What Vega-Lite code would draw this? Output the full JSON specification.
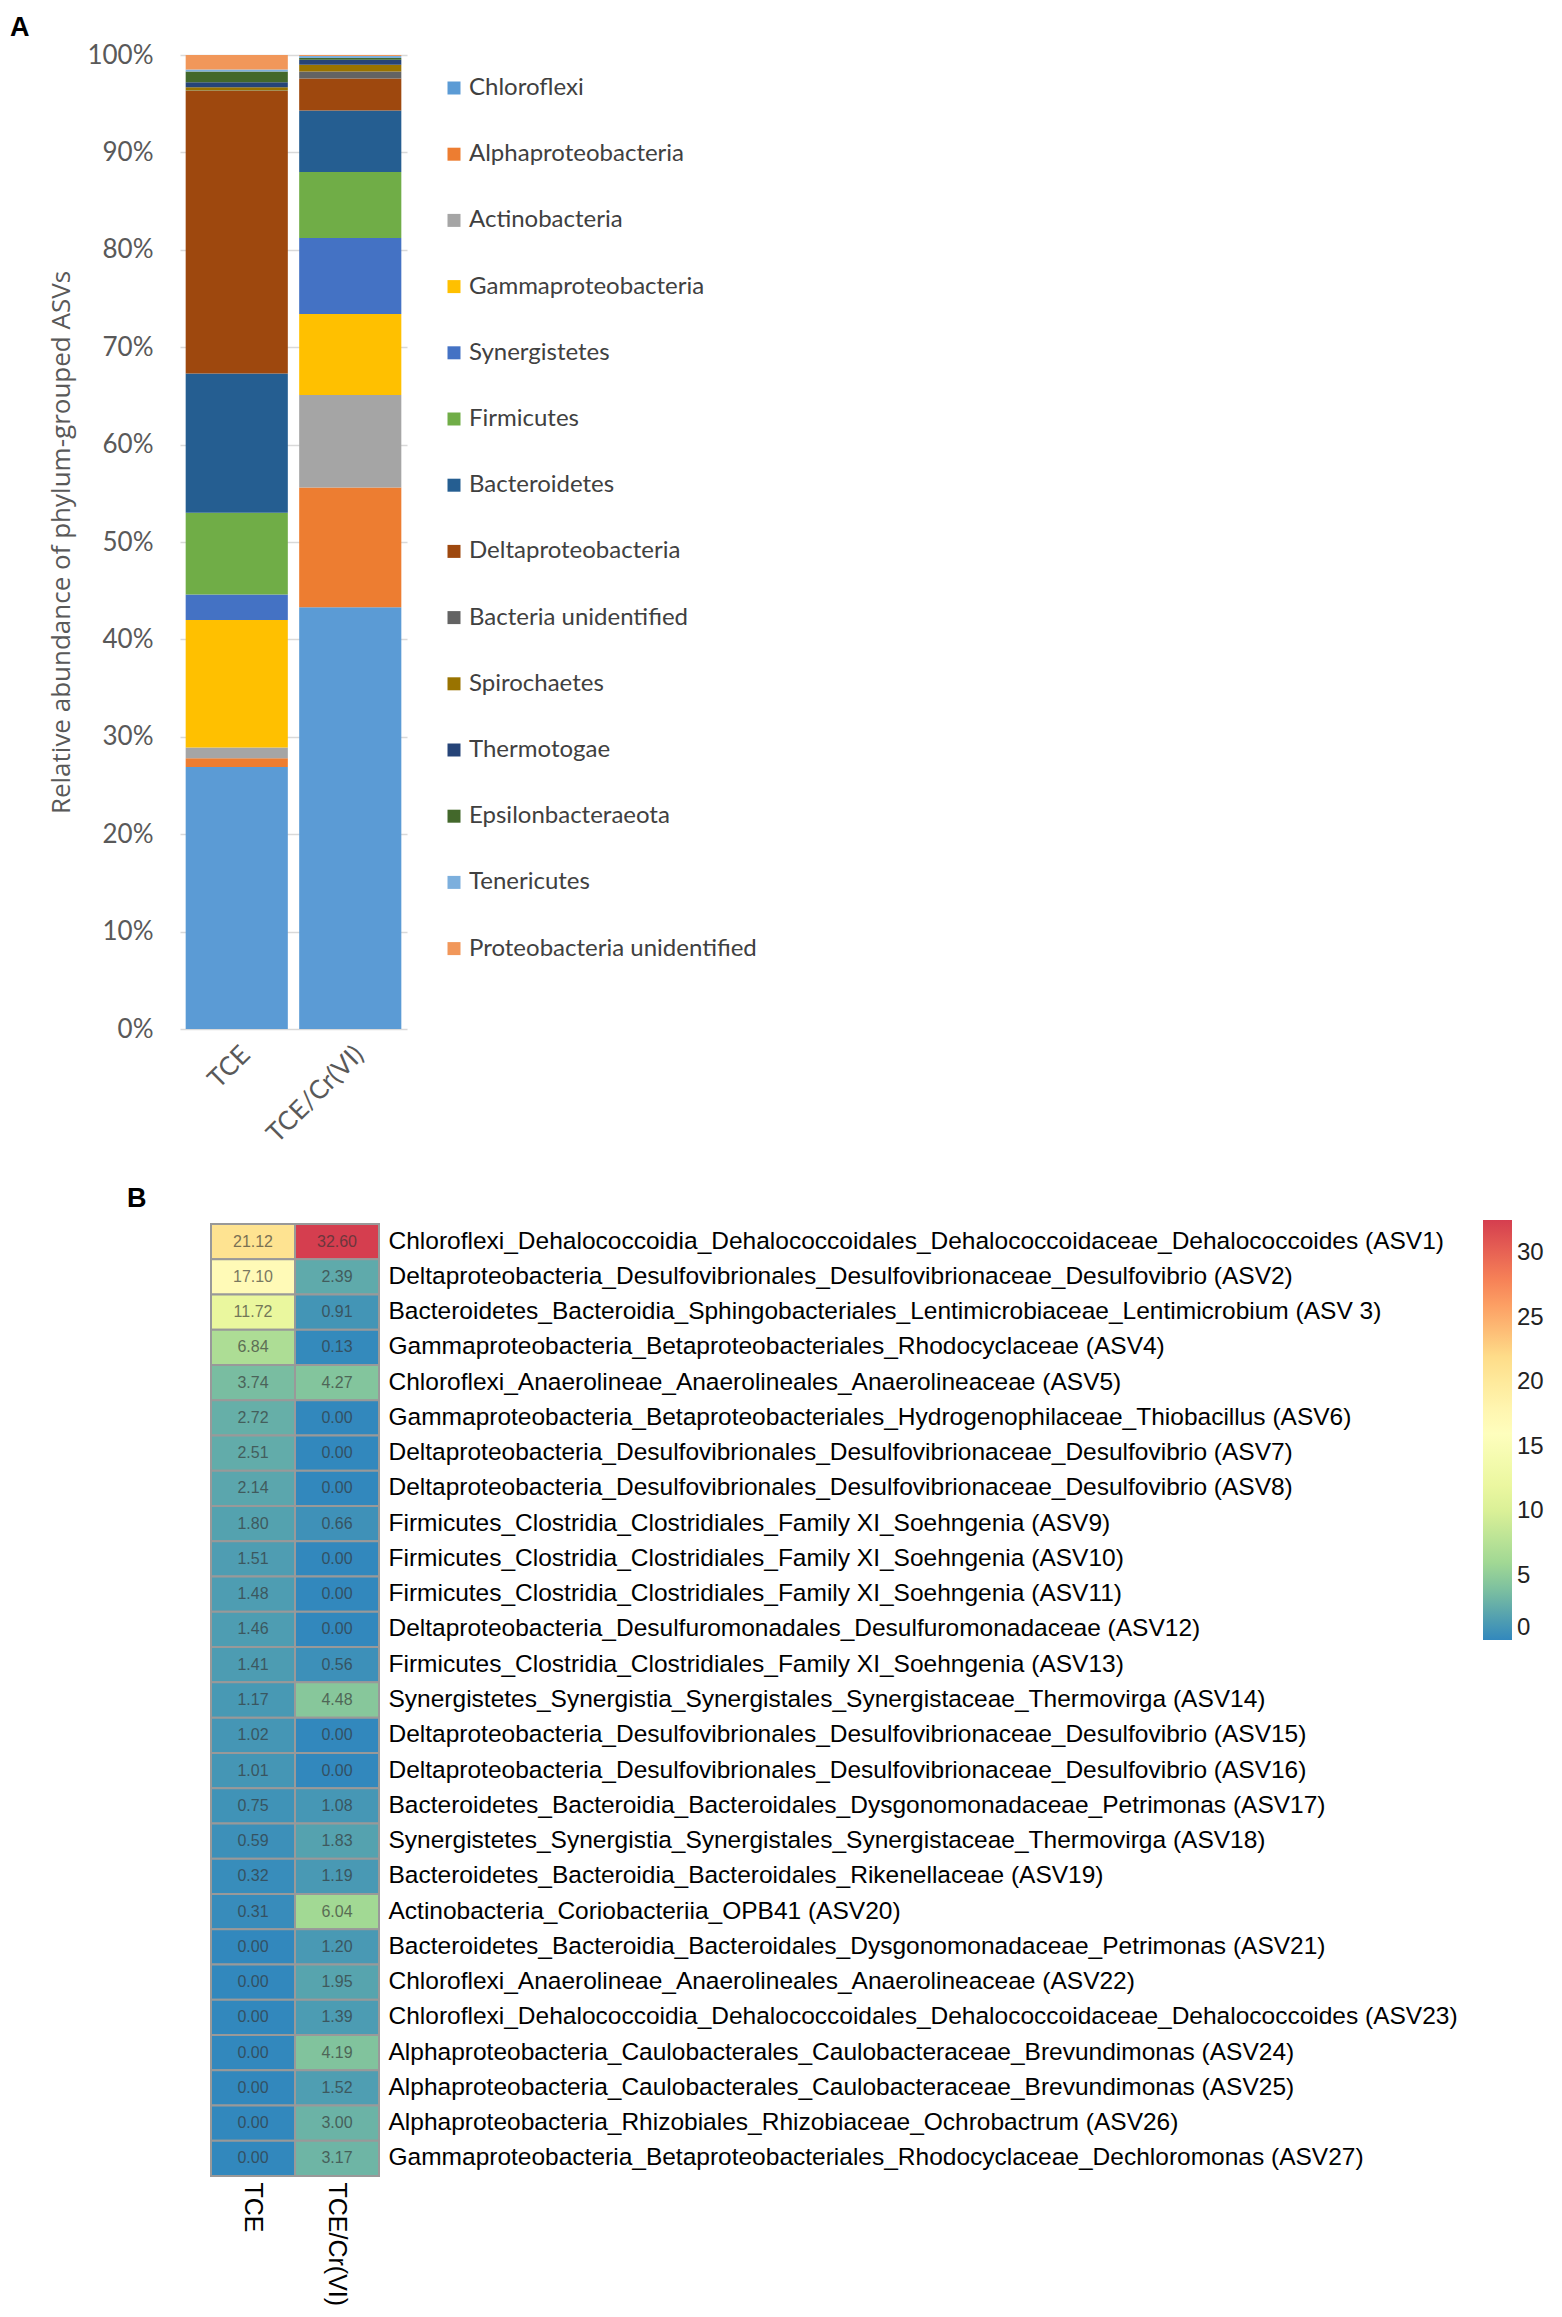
{
 "$schema": "https://vega.github.io/schema/vega-lite/v6.json",
 "padding": {"left": 10, "top": 14, "right": 0, "bottom": 0},
 "background": "white",
 "bounds": "flush",
 "spacing": 195,
 "config": {"view": {"stroke": null}},
 "datasets": {
  "bars": [
   {"sample": "TCE", "phylum": "Chloroflexi", "rank": 1, "pct": 26.9},
   {"sample": "TCE", "phylum": "Alphaproteobacteria", "rank": 2, "pct": 0.9},
   {"sample": "TCE", "phylum": "Actinobacteria", "rank": 3, "pct": 1.1},
   {"sample": "TCE", "phylum": "Gammaproteobacteria", "rank": 4, "pct": 13.1},
   {"sample": "TCE", "phylum": "Synergistetes", "rank": 5, "pct": 2.6},
   {"sample": "TCE", "phylum": "Firmicutes", "rank": 6, "pct": 8.4},
   {"sample": "TCE", "phylum": "Bacteroidetes", "rank": 7, "pct": 14.3},
   {"sample": "TCE", "phylum": "Deltaproteobacteria", "rank": 8, "pct": 29.0},
   {"sample": "TCE", "phylum": "Bacteria unidentified", "rank": 9, "pct": 0.05},
   {"sample": "TCE", "phylum": "Spirochaetes", "rank": 10, "pct": 0.35},
   {"sample": "TCE", "phylum": "Thermotogae", "rank": 11, "pct": 0.5},
   {"sample": "TCE", "phylum": "Epsilonbacteraeota", "rank": 12, "pct": 1.1},
   {"sample": "TCE", "phylum": "Tenericutes", "rank": 13, "pct": 0.2},
   {"sample": "TCE", "phylum": "Proteobacteria unidentified", "rank": 14, "pct": 1.5},
   {"sample": "TCE/Cr(VI)", "phylum": "Chloroflexi", "rank": 1, "pct": 43.3},
   {"sample": "TCE/Cr(VI)", "phylum": "Alphaproteobacteria", "rank": 2, "pct": 12.3},
   {"sample": "TCE/Cr(VI)", "phylum": "Actinobacteria", "rank": 3, "pct": 9.5},
   {"sample": "TCE/Cr(VI)", "phylum": "Gammaproteobacteria", "rank": 4, "pct": 8.3},
   {"sample": "TCE/Cr(VI)", "phylum": "Synergistetes", "rank": 5, "pct": 7.8},
   {"sample": "TCE/Cr(VI)", "phylum": "Firmicutes", "rank": 6, "pct": 6.8},
   {"sample": "TCE/Cr(VI)", "phylum": "Bacteroidetes", "rank": 7, "pct": 6.3},
   {"sample": "TCE/Cr(VI)", "phylum": "Deltaproteobacteria", "rank": 8, "pct": 3.3},
   {"sample": "TCE/Cr(VI)", "phylum": "Bacteria unidentified", "rank": 9, "pct": 0.7},
   {"sample": "TCE/Cr(VI)", "phylum": "Spirochaetes", "rank": 10, "pct": 0.7},
   {"sample": "TCE/Cr(VI)", "phylum": "Thermotogae", "rank": 11, "pct": 0.5},
   {"sample": "TCE/Cr(VI)", "phylum": "Epsilonbacteraeota", "rank": 12, "pct": 0.2},
   {"sample": "TCE/Cr(VI)", "phylum": "Tenericutes", "rank": 13, "pct": 0.2},
   {"sample": "TCE/Cr(VI)", "phylum": "Proteobacteria unidentified", "rank": 14, "pct": 0.1}
  ],
  "heat": [
   {"row": 1, "taxon": "Chloroflexi_Dehalococcoidia_Dehalococcoidales_Dehalococcoidaceae_Dehalococcoides (ASV1)", "sample": "TCE", "value": 21.12},
   {"row": 1, "taxon": "Chloroflexi_Dehalococcoidia_Dehalococcoidales_Dehalococcoidaceae_Dehalococcoides (ASV1)", "sample": "TCE/Cr(VI)", "value": 32.60},
   {"row": 2, "taxon": "Deltaproteobacteria_Desulfovibrionales_Desulfovibrionaceae_Desulfovibrio (ASV2)", "sample": "TCE", "value": 17.10},
   {"row": 2, "taxon": "Deltaproteobacteria_Desulfovibrionales_Desulfovibrionaceae_Desulfovibrio (ASV2)", "sample": "TCE/Cr(VI)", "value": 2.39},
   {"row": 3, "taxon": "Bacteroidetes_Bacteroidia_Sphingobacteriales_Lentimicrobiaceae_Lentimicrobium (ASV 3)", "sample": "TCE", "value": 11.72},
   {"row": 3, "taxon": "Bacteroidetes_Bacteroidia_Sphingobacteriales_Lentimicrobiaceae_Lentimicrobium (ASV 3)", "sample": "TCE/Cr(VI)", "value": 0.91},
   {"row": 4, "taxon": "Gammaproteobacteria_Betaproteobacteriales_Rhodocyclaceae (ASV4)", "sample": "TCE", "value": 6.84},
   {"row": 4, "taxon": "Gammaproteobacteria_Betaproteobacteriales_Rhodocyclaceae (ASV4)", "sample": "TCE/Cr(VI)", "value": 0.13},
   {"row": 5, "taxon": "Chloroflexi_Anaerolineae_Anaerolineales_Anaerolineaceae (ASV5)", "sample": "TCE", "value": 3.74},
   {"row": 5, "taxon": "Chloroflexi_Anaerolineae_Anaerolineales_Anaerolineaceae (ASV5)", "sample": "TCE/Cr(VI)", "value": 4.27},
   {"row": 6, "taxon": "Gammaproteobacteria_Betaproteobacteriales_Hydrogenophilaceae_Thiobacillus (ASV6)", "sample": "TCE", "value": 2.72},
   {"row": 6, "taxon": "Gammaproteobacteria_Betaproteobacteriales_Hydrogenophilaceae_Thiobacillus (ASV6)", "sample": "TCE/Cr(VI)", "value": 0.00},
   {"row": 7, "taxon": "Deltaproteobacteria_Desulfovibrionales_Desulfovibrionaceae_Desulfovibrio (ASV7)", "sample": "TCE", "value": 2.51},
   {"row": 7, "taxon": "Deltaproteobacteria_Desulfovibrionales_Desulfovibrionaceae_Desulfovibrio (ASV7)", "sample": "TCE/Cr(VI)", "value": 0.00},
   {"row": 8, "taxon": "Deltaproteobacteria_Desulfovibrionales_Desulfovibrionaceae_Desulfovibrio (ASV8)", "sample": "TCE", "value": 2.14},
   {"row": 8, "taxon": "Deltaproteobacteria_Desulfovibrionales_Desulfovibrionaceae_Desulfovibrio (ASV8)", "sample": "TCE/Cr(VI)", "value": 0.00},
   {"row": 9, "taxon": "Firmicutes_Clostridia_Clostridiales_Family XI_Soehngenia (ASV9)", "sample": "TCE", "value": 1.80},
   {"row": 9, "taxon": "Firmicutes_Clostridia_Clostridiales_Family XI_Soehngenia (ASV9)", "sample": "TCE/Cr(VI)", "value": 0.66},
   {"row": 10, "taxon": "Firmicutes_Clostridia_Clostridiales_Family XI_Soehngenia (ASV10)", "sample": "TCE", "value": 1.51},
   {"row": 10, "taxon": "Firmicutes_Clostridia_Clostridiales_Family XI_Soehngenia (ASV10)", "sample": "TCE/Cr(VI)", "value": 0.00},
   {"row": 11, "taxon": "Firmicutes_Clostridia_Clostridiales_Family XI_Soehngenia (ASV11)", "sample": "TCE", "value": 1.48},
   {"row": 11, "taxon": "Firmicutes_Clostridia_Clostridiales_Family XI_Soehngenia (ASV11)", "sample": "TCE/Cr(VI)", "value": 0.00},
   {"row": 12, "taxon": "Deltaproteobacteria_Desulfuromonadales_Desulfuromonadaceae (ASV12)", "sample": "TCE", "value": 1.46},
   {"row": 12, "taxon": "Deltaproteobacteria_Desulfuromonadales_Desulfuromonadaceae (ASV12)", "sample": "TCE/Cr(VI)", "value": 0.00},
   {"row": 13, "taxon": "Firmicutes_Clostridia_Clostridiales_Family XI_Soehngenia (ASV13)", "sample": "TCE", "value": 1.41},
   {"row": 13, "taxon": "Firmicutes_Clostridia_Clostridiales_Family XI_Soehngenia (ASV13)", "sample": "TCE/Cr(VI)", "value": 0.56},
   {"row": 14, "taxon": "Synergistetes_Synergistia_Synergistales_Synergistaceae_Thermovirga (ASV14)", "sample": "TCE", "value": 1.17},
   {"row": 14, "taxon": "Synergistetes_Synergistia_Synergistales_Synergistaceae_Thermovirga (ASV14)", "sample": "TCE/Cr(VI)", "value": 4.48},
   {"row": 15, "taxon": "Deltaproteobacteria_Desulfovibrionales_Desulfovibrionaceae_Desulfovibrio (ASV15)", "sample": "TCE", "value": 1.02},
   {"row": 15, "taxon": "Deltaproteobacteria_Desulfovibrionales_Desulfovibrionaceae_Desulfovibrio (ASV15)", "sample": "TCE/Cr(VI)", "value": 0.00},
   {"row": 16, "taxon": "Deltaproteobacteria_Desulfovibrionales_Desulfovibrionaceae_Desulfovibrio (ASV16)", "sample": "TCE", "value": 1.01},
   {"row": 16, "taxon": "Deltaproteobacteria_Desulfovibrionales_Desulfovibrionaceae_Desulfovibrio (ASV16)", "sample": "TCE/Cr(VI)", "value": 0.00},
   {"row": 17, "taxon": "Bacteroidetes_Bacteroidia_Bacteroidales_Dysgonomonadaceae_Petrimonas (ASV17)", "sample": "TCE", "value": 0.75},
   {"row": 17, "taxon": "Bacteroidetes_Bacteroidia_Bacteroidales_Dysgonomonadaceae_Petrimonas (ASV17)", "sample": "TCE/Cr(VI)", "value": 1.08},
   {"row": 18, "taxon": "Synergistetes_Synergistia_Synergistales_Synergistaceae_Thermovirga (ASV18)", "sample": "TCE", "value": 0.59},
   {"row": 18, "taxon": "Synergistetes_Synergistia_Synergistales_Synergistaceae_Thermovirga (ASV18)", "sample": "TCE/Cr(VI)", "value": 1.83},
   {"row": 19, "taxon": "Bacteroidetes_Bacteroidia_Bacteroidales_Rikenellaceae (ASV19)", "sample": "TCE", "value": 0.32},
   {"row": 19, "taxon": "Bacteroidetes_Bacteroidia_Bacteroidales_Rikenellaceae (ASV19)", "sample": "TCE/Cr(VI)", "value": 1.19},
   {"row": 20, "taxon": "Actinobacteria_Coriobacteriia_OPB41 (ASV20)", "sample": "TCE", "value": 0.31},
   {"row": 20, "taxon": "Actinobacteria_Coriobacteriia_OPB41 (ASV20)", "sample": "TCE/Cr(VI)", "value": 6.04},
   {"row": 21, "taxon": "Bacteroidetes_Bacteroidia_Bacteroidales_Dysgonomonadaceae_Petrimonas (ASV21)", "sample": "TCE", "value": 0.00},
   {"row": 21, "taxon": "Bacteroidetes_Bacteroidia_Bacteroidales_Dysgonomonadaceae_Petrimonas (ASV21)", "sample": "TCE/Cr(VI)", "value": 1.20},
   {"row": 22, "taxon": "Chloroflexi_Anaerolineae_Anaerolineales_Anaerolineaceae (ASV22)", "sample": "TCE", "value": 0.00},
   {"row": 22, "taxon": "Chloroflexi_Anaerolineae_Anaerolineales_Anaerolineaceae (ASV22)", "sample": "TCE/Cr(VI)", "value": 1.95},
   {"row": 23, "taxon": "Chloroflexi_Dehalococcoidia_Dehalococcoidales_Dehalococcoidaceae_Dehalococcoides (ASV23)", "sample": "TCE", "value": 0.00},
   {"row": 23, "taxon": "Chloroflexi_Dehalococcoidia_Dehalococcoidales_Dehalococcoidaceae_Dehalococcoides (ASV23)", "sample": "TCE/Cr(VI)", "value": 1.39},
   {"row": 24, "taxon": "Alphaproteobacteria_Caulobacterales_Caulobacteraceae_Brevundimonas (ASV24)", "sample": "TCE", "value": 0.00},
   {"row": 24, "taxon": "Alphaproteobacteria_Caulobacterales_Caulobacteraceae_Brevundimonas (ASV24)", "sample": "TCE/Cr(VI)", "value": 4.19},
   {"row": 25, "taxon": "Alphaproteobacteria_Caulobacterales_Caulobacteraceae_Brevundimonas (ASV25)", "sample": "TCE", "value": 0.00},
   {"row": 25, "taxon": "Alphaproteobacteria_Caulobacterales_Caulobacteraceae_Brevundimonas (ASV25)", "sample": "TCE/Cr(VI)", "value": 1.52},
   {"row": 26, "taxon": "Alphaproteobacteria_Rhizobiales_Rhizobiaceae_Ochrobactrum (ASV26)", "sample": "TCE", "value": 0.00},
   {"row": 26, "taxon": "Alphaproteobacteria_Rhizobiales_Rhizobiaceae_Ochrobactrum (ASV26)", "sample": "TCE/Cr(VI)", "value": 3.00},
   {"row": 27, "taxon": "Gammaproteobacteria_Betaproteobacteriales_Rhodocyclaceae_Dechloromonas (ASV27)", "sample": "TCE", "value": 0.00},
   {"row": 27, "taxon": "Gammaproteobacteria_Betaproteobacteriales_Rhodocyclaceae_Dechloromonas (ASV27)", "sample": "TCE/Cr(VI)", "value": 3.17}
  ]
 },
 "vconcat": [
  {
   "width": 227,
   "height": 974,
   "title": {"text": "A", "anchor": "start", "frame": "group", "dx": -170, "font": "Liberation Sans", "fontSize": 27, "fontWeight": "bold", "color": "#000000", "offset": 0},
   "data": {"name": "bars"},
   "mark": {"type": "bar"},
   "encoding": {
    "x": {"field": "sample", "type": "nominal", "sort": ["TCE", "TCE/Cr(VI)"],
     "scale": {"paddingInner": 0.1, "paddingOuter": 0.05},
     "axis": {"title": null, "labelAngle": -45, "labelFont": "Lato", "labelFontSize": 26, "labelColor": "#595959", "labelPadding": 12, "ticks": false, "domain": false}},
    "y": {"field": "pct", "type": "quantitative", "stack": "zero",
     "scale": {"domain": [0, 100], "nice": false},
     "axis": {"title": "Relative abundance of phylum-grouped ASVs", "titleFont": "Open Sans", "titleFontSize": 26, "titleFontWeight": "normal", "titleColor": "#595959", "titlePadding": 12,
      "values": [0, 10, 20, 30, 40, 50, 60, 70, 80, 90, 100], "labelExpr": "datum.value + '%'",
      "labelFont": "Lato", "labelFontSize": 26, "labelColor": "#595959", "labelPadding": 27,
      "ticks": false, "domain": false, "grid": true, "gridColor": "#d9d9d9", "gridWidth": 1.5}},
    "color": {"field": "phylum", "type": "nominal",
     "scale": {
      "domain": ["Chloroflexi", "Alphaproteobacteria", "Actinobacteria", "Gammaproteobacteria", "Synergistetes", "Firmicutes", "Bacteroidetes", "Deltaproteobacteria", "Bacteria unidentified", "Spirochaetes", "Thermotogae", "Epsilonbacteraeota", "Tenericutes", "Proteobacteria unidentified"],
      "range": ["#5B9BD5", "#ED7D31", "#A5A5A5", "#FFC000", "#4472C4", "#70AD47", "#255E91", "#9E480E", "#636363", "#997300", "#264478", "#43682B", "#7CAFDD", "#F1975A"]},
     "legend": {"title": null, "orient": "none", "legendX": 262, "legendY": 21, "symbolType": "square", "symbolSize": 169, "symbolStrokeWidth": 0,
      "labelFont": "Lato", "labelFontSize": 24, "labelColor": "#404040", "labelLimit": 800, "rowPadding": 42.2, "labelOffset": 3, "padding": 0}},
    "order": {"field": "rank", "type": "quantitative", "sort": "ascending"}
   }
  },
  {
   "width": 199,
   "height": 952,
   "title": {"text": "B", "anchor": "start", "frame": "group", "dx": -53, "font": "Liberation Sans", "fontSize": 27, "fontWeight": "bold", "color": "#000000", "offset": 7},
   "data": {"name": "heat"},
   "encoding": {
    "x": {"field": "sample", "type": "nominal", "sort": ["TCE", "TCE/Cr(VI)"],
     "scale": {"paddingInner": 0, "paddingOuter": 0.1845, "align": 1},
     "axis": {"title": null, "labelAngle": 90, "labelFont": "Liberation Sans", "labelFontSize": 25, "labelColor": "#000000", "labelPadding": 6, "ticks": false, "domain": false}},
    "y": {"field": "taxon", "type": "nominal", "sort": {"field": "row", "op": "min", "order": "ascending"},
     "scale": {"paddingInner": 0, "paddingOuter": 0},
     "axis": {"orient": "right", "title": null, "labelFont": "Liberation Sans", "labelFontSize": 24.5, "labelColor": "#000000", "labelPadding": 9, "labelLimit": 1500, "ticks": false, "domain": false}}
   },
   "layer": [
    {
     "mark": {"type": "rect", "stroke": "#999999", "strokeWidth": 2},
     "encoding": {
      "color": {"field": "value", "type": "quantitative",
       "scale": {"domain": [0, 5.433, 10.867, 16.3, 21.733, 27.167, 32.6], "range": ["#3288bd", "#99d594", "#e6f598", "#ffffbf", "#fee08b", "#fc8d59", "#d53e4f"], "interpolate": "rgb"},
       "legend": {"title": null, "orient": "none", "legendX": 1303, "legendY": -4, "direction": "vertical", "gradientLength": 420, "gradientThickness": 29, "gradientStrokeWidth": 0,
        "values": [0, 5, 10, 15, 20, 25, 30], "labelFont": "Liberation Sans", "labelFontSize": 24, "labelColor": "#222222", "labelOffset": 5, "padding": 0}}
     }
    },
    {
     "mark": {"type": "text", "font": "Liberation Sans", "fontSize": 16, "color": "#333333", "opacity": 0.65},
     "encoding": {"text": {"field": "value", "type": "quantitative", "format": ".2f"}}
    }
   ]
  }
 ]
}
